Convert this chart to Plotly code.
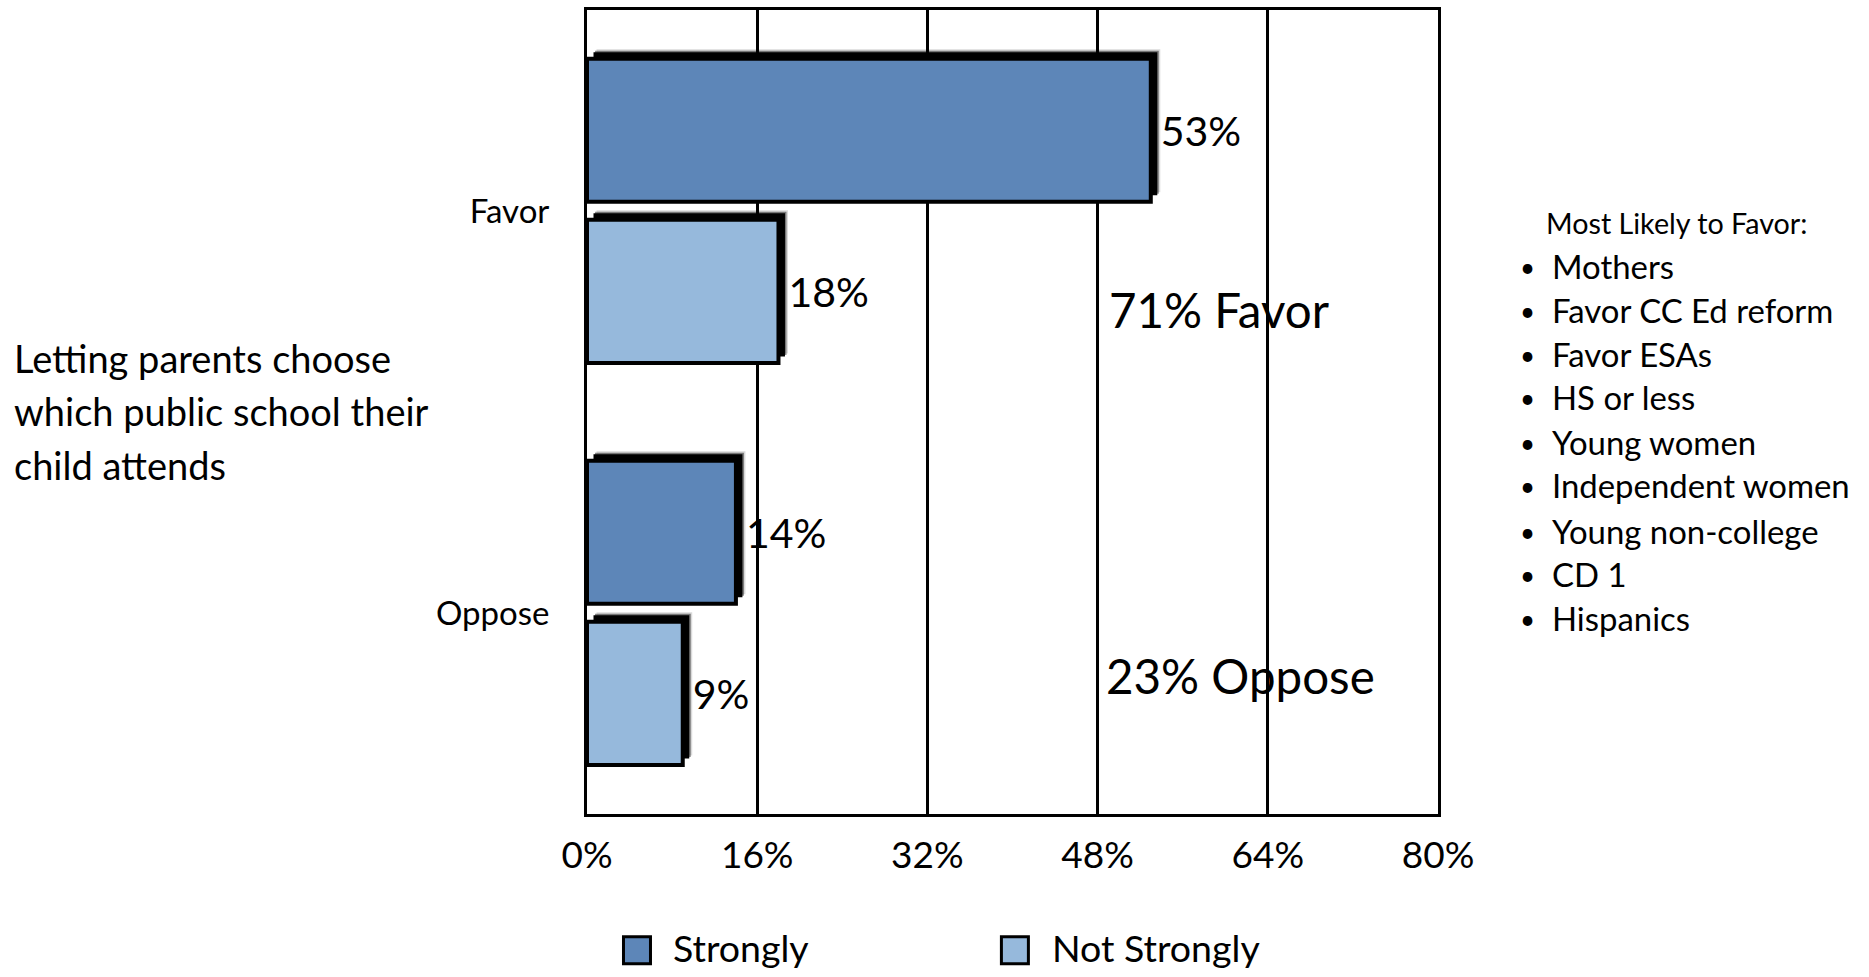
import plotly.graph_objects as go

# ---- data ----
categories = ["Favor", "Oppose"]
strongly = [53, 14]
not_strongly = [18, 9]
series_names = ["Strongly", "Not Strongly"]
x_ticks = [0, 16, 32, 48, 64, 80]
x_tick_labels = ["0%", "16%", "32%", "48%", "64%", "80%"]
question_lines = ["Letting parents choose", "which public school their", "child attends"]
totals = ["71% Favor", "23% Oppose"]
favor_heading = "Most Likely to Favor:"
favor_groups = ["Mothers", "Favor CC Ed reform", "Favor ESAs", "HS or less",
                "Young women", "Independent women", "Young non-college",
                "CD 1", "Hispanics"]

# ---- geometry / style ----
W, H = 1869, 977
PL, PR, PT, PB = 586.5, 1437.7, 10, 814.3          # plot area in pixels
FONT = "Lato"
COLORS = ["#5D86B8", "#96B9DC"]
BAR_WIDTHS = [0.356, 0.356]
BAR_OFFSETS = [-0.379, 0.022]
LABEL_GAP_PX = 7.0

px_per_pct = (PR - PL) / 80.0
px_per_cat = (PB - PT) / len(categories)


def paper_x(px):
    return (px - PL) / (PR - PL)


def paper_y(py):
    return (PB - py) / (PB - PT)


fig = go.Figure()

series = [strongly, not_strongly]

# soft drop shadows (up and to the right of each bar)
shadow_layers = [(9.5, "rgba(0,0,0,0.15)"), (8.0, "rgba(0,0,0,0.45)"), (6.5, "black")]
for vals, off, wd in zip(series, BAR_OFFSETS, BAR_WIDTHS):
    for d, col in shadow_layers:
        fig.add_trace(go.Bar(
            y=categories, x=vals, orientation="h",
            base=d / px_per_pct,
            offset=off - d / px_per_cat, width=wd,
            marker=dict(color=col, line=dict(width=0)),
            showlegend=False, hoverinfo="skip",
        ))

# the bars themselves
for name, vals, off, wd, col in zip(series_names, series, BAR_OFFSETS, BAR_WIDTHS, COLORS):
    fig.add_trace(go.Bar(
        name=name, y=categories, x=vals, orientation="h",
        offset=off, width=wd,
        marker=dict(color=col, line=dict(color="black", width=4)),
        showlegend=False,
    ))

# value labels just past the end of each bar's shadow
for vals, off, wd in zip(series, BAR_OFFSETS, BAR_WIDTHS):
    fig.add_trace(go.Bar(
        y=categories, x=vals, orientation="h",
        base=LABEL_GAP_PX / px_per_pct,
        offset=off, width=wd,
        marker=dict(color="rgba(0,0,0,0)", line=dict(width=0)),
        text=[f"{v}%" for v in vals], textposition="outside",
        textfont=dict(family=FONT, size=41, color="black"),
        cliponaxis=False, showlegend=False, hoverinfo="skip",
    ))

annotations = []

# question text on the left
for txt, cy in zip(question_lines, [358, 411, 465]):
    annotations.append(dict(x=paper_x(11), y=paper_y(cy), xref="paper", yref="paper",
                            text=txt, showarrow=False, xanchor="left", yanchor="middle",
                            font=dict(family=FONT, size=38, color="black")))

# totals inside the plot
for txt, (lx, cy) in zip(totals, [(1107, 310), (1104, 676)]):
    annotations.append(dict(x=paper_x(lx), y=paper_y(cy), xref="paper", yref="paper",
                            text=txt, showarrow=False, xanchor="left", yanchor="middle",
                            font=dict(family=FONT, size=47.5, color="black")))

# bulleted list on the right
annotations.append(dict(x=paper_x(1544), y=paper_y(223), xref="paper", yref="paper",
                        text=favor_heading, showarrow=False, xanchor="left", yanchor="middle",
                        font=dict(family=FONT, size=28.7, color="black")))
item_y = [267, 311, 355, 398, 443, 486, 532, 575, 619]
for txt, cy in zip(favor_groups, item_y):
    annotations.append(dict(x=paper_x(1527), y=paper_y(cy), xref="paper", yref="paper",
                            text="•", showarrow=False, xanchor="center", yanchor="middle",
                            font=dict(family=FONT, size=26, color="black")))
    annotations.append(dict(x=paper_x(1550), y=paper_y(cy), xref="paper", yref="paper",
                            text=txt, showarrow=False, xanchor="left", yanchor="middle",
                            font=dict(family=FONT, size=32.9, color="black")))

# legend drawn as swatches + labels
shapes = []
for name, col, sx, tx in zip(series_names, COLORS, [623, 1001], [671, 1050]):
    shapes.append(dict(type="rect", xref="paper", yref="paper",
                       x0=paper_x(sx), x1=paper_x(sx + 27),
                       y0=paper_y(964), y1=paper_y(937),
                       fillcolor=col, line=dict(color="black", width=3)))
    annotations.append(dict(x=paper_x(tx), y=paper_y(948), xref="paper", yref="paper",
                            text=name, showarrow=False, xanchor="left", yanchor="middle",
                            font=dict(family=FONT, size=37.5, color="black")))

fig.update_layout(
    width=W, height=H,
    margin=dict(l=PL, r=W - PR, t=PT, b=H - PB, autoexpand=False),
    paper_bgcolor="white", plot_bgcolor="white",
    barmode="overlay",
    font=dict(family=FONT, color="black"),
    annotations=annotations, shapes=shapes,
)
fig.update_xaxes(
    range=[0, 80], tickvals=x_ticks, ticktext=x_tick_labels,
    showgrid=True, gridcolor="black", gridwidth=2.5,
    showline=True, linecolor="black", linewidth=3, mirror=True,
    ticks="", ticklabelstandoff=7, zeroline=False,
    tickfont=dict(family=FONT, size=37, color="black"),
)
fig.update_yaxes(
    type="category", categoryorder="array", categoryarray=categories,
    range=[1.5, -0.5],
    showgrid=False, showline=True, linecolor="black", linewidth=3, mirror=True,
    ticks="", ticklabelstandoff=28,
    tickfont=dict(family=FONT, size=33, color="black"),
)

fig.write_html("out.html")
